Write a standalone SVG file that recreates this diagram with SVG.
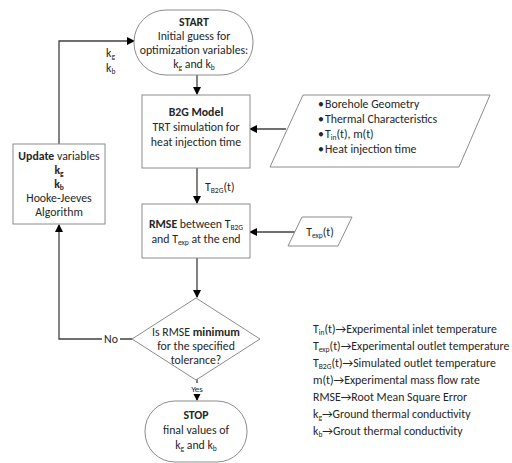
<svg xmlns="http://www.w3.org/2000/svg" width="512" height="463" viewBox="0 0 512 463">
<defs>
<marker id="ah" markerWidth="8" markerHeight="8" refX="7" refY="4" orient="auto" markerUnits="userSpaceOnUse">
<path d="M0,0 L8,4 L0,8 Z" fill="#000"/>
</marker>
<style>
text{font-family:Carlito,"Liberation Sans",Arial,sans-serif;font-size:11.8px;fill:#262626}
.c{text-anchor:middle}
.b{font-weight:bold}
.s{font-size:7.5px}
.shape{fill:#fff;stroke:#8c8c8c;stroke-width:1}
.con{fill:none;stroke:#404040;stroke-width:1.3}
.lbl{fill:#fff;stroke:none}
</style>
</defs>
<rect width="512" height="463" fill="#fff"/>
<g id="connectors">
<path class="con" d="M197,75 V94" marker-end="url(#ah)"/>
<path class="con" d="M286,129 H250" marker-end="url(#ah)"/>
<path class="con" d="M197,168 V203" marker-end="url(#ah)"/>
<path class="con" d="M295,232 H250" marker-end="url(#ah)"/>
<path class="con" d="M197,258 V297" marker-end="url(#ah)"/>
<path class="con" d="M132,339 H59 V225" marker-end="url(#ah)"/>
<path class="con" d="M59,144 V41 H134" marker-end="url(#ah)"/>
<path class="con" d="M197,379 V400" marker-end="url(#ah)"/>
<rect class="lbl" x="102" y="333" width="18" height="12"/>
<text x="111" y="343" class="c">No</text>
<rect class="lbl" x="186" y="383" width="22" height="11"/>
<text x="197" y="392" class="c" style="font-size:9px">Yes</text>
<text x="205" y="191">T<tspan class="s" dy="2">B2G</tspan><tspan dy="-2">(t)</tspan></text>
<text x="106" y="57">k<tspan class="s" dy="2">g</tspan></text>
<text x="106" y="72">k<tspan class="s" dy="2">b</tspan></text>
</g>
<g id="start">
<rect class="shape" x="134" y="10" width="119" height="65" rx="32" ry="32"/>
<text x="194" y="26" class="c b">START</text>
<text x="194" y="40" class="c">Initial guess for</text>
<text x="194" y="54" class="c">optimization variables:</text>
<text x="194" y="68" class="c">k<tspan class="s" dy="2">g</tspan><tspan dy="-2"> and k</tspan><tspan class="s" dy="2">b</tspan></text>
</g>
<g id="b2g">
<rect class="shape" x="142" y="95" width="108" height="73"/>
<text x="196" y="116" class="c b">B2G Model</text>
<text x="196" y="131" class="c">TRT simulation for</text>
<text x="196" y="146" class="c">heat injection time</text>
</g>
<g id="inputs">
<path class="shape" d="M303,95 H490 L459,167 H270 Z"/>
<text x="318" y="108">•</text><text x="325" y="108">Borehole Geometry</text>
<text x="318" y="123">•</text><text x="325" y="123">Thermal Characteristics</text>
<text x="318" y="138">•</text><text x="325" y="138">T<tspan class="s" dy="2">in</tspan><tspan dy="-2">(t), m(t)</tspan></text>
<text x="318" y="153">•</text><text x="325" y="153">Heat injection time</text>
</g>
<g id="rmse">
<rect class="shape" x="142" y="204" width="108" height="54"/>
<text x="196" y="228" class="c"><tspan class="b">RMSE</tspan> between T<tspan class="s" dy="2">B2G</tspan></text>
<text x="196" y="243" class="c">and T<tspan class="s" dy="2">exp</tspan><tspan dy="-2"> at the end</tspan></text>
</g>
<g id="texp">
<path class="shape" d="M302,217 H352 L338,246 H288 Z"/>
<text x="320" y="236" class="c">T<tspan class="s" dy="2">exp</tspan><tspan dy="-2">(t)</tspan></text>
</g>
<g id="update">
<rect class="shape" x="13" y="144" width="92" height="80"/>
<text x="59" y="160" class="c"><tspan class="b">Update</tspan> variables</text>
<text x="59" y="174" class="c b">k<tspan class="s" dy="2">g</tspan></text>
<text x="59" y="188" class="c b">k<tspan class="s" dy="2">b</tspan></text>
<text x="59" y="202" class="c">Hooke-Jeeves</text>
<text x="59" y="216" class="c">Algorithm</text>
</g>
<g id="decision">
<path class="shape" d="M196,298 L260,339 L196,380 L132,339 Z"/>
<text x="196" y="336" class="c">Is RMSE <tspan class="b">minimum</tspan></text>
<text x="196" y="350" class="c">for the specified</text>
<text x="196" y="364" class="c">tolerance?</text>
</g>
<g id="stop">
<rect class="shape" x="145" y="401" width="102" height="61" rx="30" ry="30"/>
<text x="196" y="419" class="c b">STOP</text>
<text x="196" y="434" class="c">final values of</text>
<text x="196" y="449" class="c">k<tspan class="s" dy="2">g</tspan><tspan dy="-2"> and k</tspan><tspan class="s" dy="2">b</tspan></text>
</g>
<g id="legend">
<text x="313" y="333">T<tspan class="s" dy="2">in</tspan><tspan dy="-2">(t)→Experimental inlet temperature</tspan></text>
<text x="313" y="350">T<tspan class="s" dy="2">exp</tspan><tspan dy="-2">(t)→Experimental outlet temperature</tspan></text>
<text x="313" y="367">T<tspan class="s" dy="2">B2G</tspan><tspan dy="-2">(t)→Simulated outlet temperature</tspan></text>
<text x="313" y="384">m(t)→Experimental mass flow rate</text>
<text x="313" y="401">RMSE→Root Mean Square Error</text>
<text x="313" y="418">k<tspan class="s" dy="2">g</tspan><tspan dy="-2">→Ground thermal conductivity</tspan></text>
<text x="313" y="435">k<tspan class="s" dy="2">b</tspan><tspan dy="-2">→Grout thermal conductivity</tspan></text>
</g>
</svg>
